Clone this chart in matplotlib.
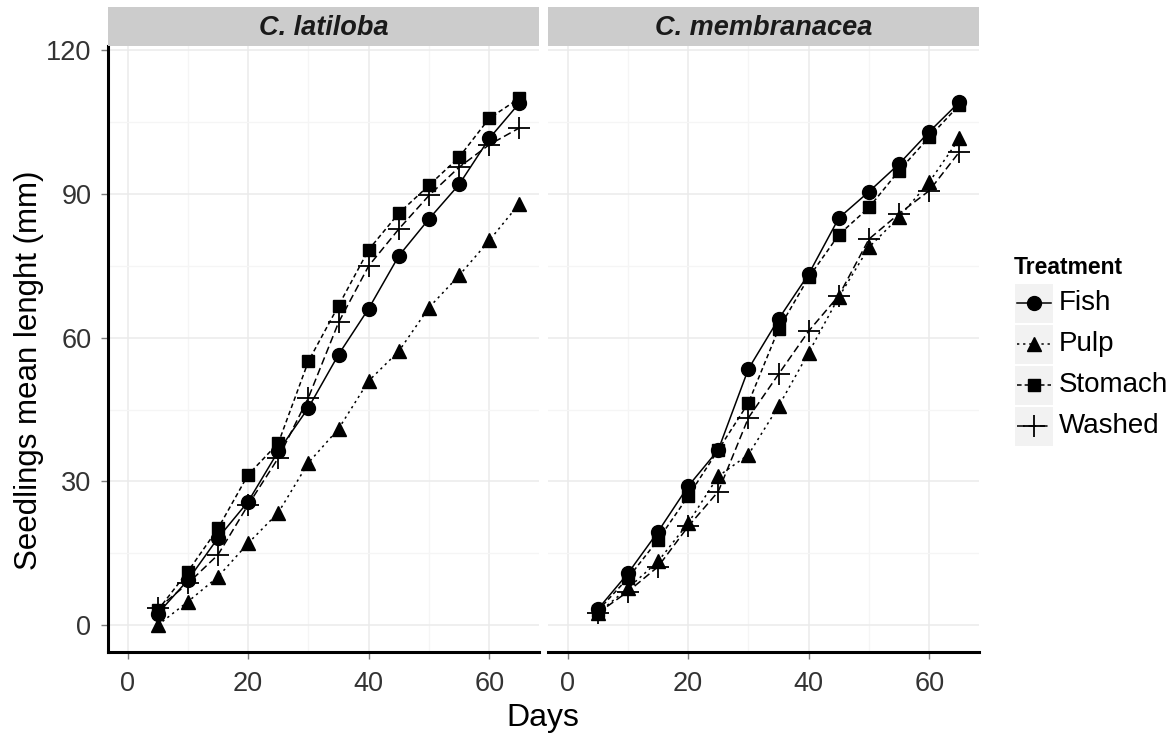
import matplotlib.pyplot as plt
from matplotlib.lines import Line2D
from matplotlib.patches import Rectangle

plt.rcParams['font.family'] = ['Liberation Sans', 'DejaVu Sans']

days = [5, 10, 15, 20, 25, 30, 35, 40, 45, 50, 55, 60, 65]
species = ['C. latiloba', 'C. membranacea']
treatments = ['Fish', 'Pulp', 'Stomach', 'Washed']

# seedling mean length (mm)
latiloba = {
    'Fish':    [2.4, 9.4, 18.2, 25.8, 36.3, 45.4, 56.5, 66.1, 77.1, 84.8, 92.0, 101.6, 109.0],
    'Pulp':    [0.0, 4.9, 10.1, 17.1, 23.5, 33.9, 41.0, 51.0, 57.2, 66.3, 73.0, 80.3, 88.0],
    'Stomach': [3.1, 11.2, 20.2, 31.4, 38.0, 55.1, 66.7, 78.4, 86.0, 91.8, 97.7, 105.8, 110.0],
    'Washed':  [3.5, 8.7, 14.7, 25.1, 34.9, 47.5, 63.2, 75.0, 82.7, 89.7, 95.6, 100.3, 103.8],
}
membranacea = {
    'Fish':    [3.3, 10.8, 19.5, 29.0, 36.6, 53.5, 63.9, 73.3, 85.0, 90.5, 96.3, 103.0, 109.2],
    'Pulp':    [2.5, 7.7, 13.3, 21.3, 31.1, 35.6, 45.7, 56.9, 68.5, 78.9, 85.2, 92.5, 101.6],
    'Stomach': [3.0, 9.8, 17.8, 26.9, 36.6, 46.4, 61.8, 72.6, 81.5, 87.2, 94.9, 101.9, 108.6],
    'Washed':  [2.5, 7.0, 12.2, 20.6, 27.9, 43.3, 52.4, 61.4, 68.8, 80.6, 85.9, 90.7, 98.8],
}

styles = {
    'Fish':    dict(marker='o', linestyle='-', markersize=10),
    'Pulp':    dict(marker='^', linestyle=(0, (1.5, 2.5)), markersize=10),
    'Stomach': dict(marker='s', linestyle=(0, (3, 2)), markersize=9),
    'Washed':  dict(marker='+', linestyle=(0, (5, 2.5)), markersize=16, markeredgewidth=1.3),
}

W, H = 1174, 736
fig = plt.figure(figsize=(W / 100, H / 100), dpi=100)

def px(x0, y0, x1, y1):
    return [x0 / W, 1 - y1 / H, (x1 - x0) / W, (y1 - y0) / H]

panels = [(108, 539), (548, 979)]
top, bottom = 46, 652
grey_tick = '#7f7f7f'
label_col = '#333333'

for i, (name, data) in enumerate(zip(species, [latiloba, membranacea])):
    x0, x1 = panels[i]
    ax = fig.add_axes(px(x0, top, x1, bottom))
    ax.set_xlim(-3.25, 68.25)
    ax.set_ylim(-5.6, 120.9)
    ax.set_xticks([0, 20, 40, 60])
    ax.set_xticks([10, 30, 50], minor=True)
    ax.set_yticks([0, 30, 60, 90, 120])
    ax.set_yticks([15, 45, 75, 105], minor=True)
    ax.grid(True, which='major', color='#ebebeb', linewidth=1.1)
    ax.grid(True, which='minor', color='#f5f5f5', linewidth=0.9)
    ax.set_axisbelow(True)
    for s in ['top', 'right']:
        ax.spines[s].set_visible(False)
    ax.spines['bottom'].set_linewidth(2.2)
    ax.spines['left'].set_linewidth(2.2)
    ax.tick_params(which='major', length=5, width=1, color=grey_tick,
                   labelsize=19.5, labelcolor=label_col, pad=7)
    ax.tick_params(axis='x', pad=9)
    ax.tick_params(which='minor', length=0)
    if i == 1:
        ax.spines['left'].set_visible(False)
        ax.tick_params(axis='y', left=False, labelleft=False)

    for t in treatments:
        ax.plot(days, data[t], color='black', linewidth=1.1, **styles[t])

    # facet strip
    sax = fig.add_axes(px(x0, 7, x1, top))
    sax.set_xlim(0, 1)
    sax.set_ylim(0, 1)
    sax.axis('off')
    sax.add_patch(Rectangle((0, 0), 1, 1, facecolor='#cccccc', edgecolor='none'))
    sax.text(0.5, 0.47, name, ha='center', va='center', fontsize=19.5,
             fontweight='bold', fontstyle='italic', color='#1a1a1a')

fig.text(543 / W, 1 - 718 / H, 'Days', ha='center', va='center', fontsize=23)
fig.text(29 / W, 1 - 370 / H, 'Seedlings mean lenght (mm)', ha='center',
         va='center', rotation=90, fontsize=22.5)

# legend
fig.text(1014 / W, 1 - 267 / H, 'Treatment', ha='left', va='center',
         fontsize=16.5, fontweight='bold')
lax = fig.add_axes(px(1014, 283, 1174, 449))
lax.set_xlim(1014, 1174)
lax.set_ylim(449, 283)
lax.axis('off')
key_h = 41
for j, t in enumerate(treatments):
    yk = 283 + j * key_h
    lax.add_patch(Rectangle((1015, yk + 1), 38, key_h - 2, facecolor='#f2f2f2',
                            edgecolor='none'))
    yc = yk + key_h / 2
    st = dict(styles[t])
    lax.add_line(Line2D([1017, 1034, 1051], [yc, yc, yc], color='black',
                        linewidth=1.1, linestyle=st.pop('linestyle'),
                        markevery=[1], **st))
    lax.text(1059, yc, t, ha='left', va='center', fontsize=20)

fig.savefig('out.png', dpi=100)
